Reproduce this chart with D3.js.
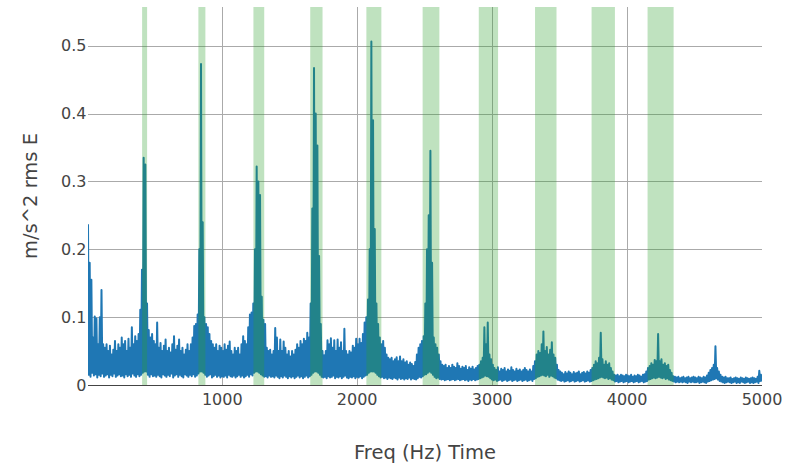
<!DOCTYPE html>
<html>
<head>
<meta charset="utf-8">
<script src="https://cdn.jsdelivr.net/npm/d3@7"></script>
<style>
  body { margin: 0; background: #fff; }
  text { font-family: "DejaVu Sans", Verdana, sans-serif; fill: #444; }
</style>
</head>
<body>
<div id="chart"></div>
<script>
// spectrum read in 12.5 Hz slots starting at 5 Hz (one row = 250 Hz):
// the top of each slot, and the floor the trace drops back to inside it
const freqStart = 5, freqStep = 12.5;
const peakAmp = [
  0.237, 0.180, 0.155, 0.070, 0.101, 0.098, 0.060, 0.100, 0.140, 0.060, 0.055, 0.060, 0.050, 0.058, 0.045, 0.052, 0.065, 0.050, 0.060, 0.055,
  0.070, 0.060, 0.065, 0.050, 0.068, 0.055, 0.085, 0.060, 0.072, 0.065, 0.075, 0.111, 0.170, 0.335, 0.325, 0.120, 0.081, 0.070, 0.075, 0.065,
  0.060, 0.092, 0.055, 0.062, 0.050, 0.058, 0.067, 0.050, 0.055, 0.048, 0.060, 0.072, 0.052, 0.058, 0.067, 0.050, 0.055, 0.045, 0.052, 0.060,
  0.050, 0.060, 0.070, 0.087, 0.090, 0.104, 0.200, 0.473, 0.240, 0.100, 0.090, 0.085, 0.075, 0.065, 0.060, 0.055, 0.060, 0.050, 0.058, 0.055,
  0.050, 0.060, 0.052, 0.058, 0.064, 0.050, 0.045, 0.055, 0.050, 0.055, 0.045, 0.060, 0.072, 0.065, 0.060, 0.085, 0.104, 0.107, 0.120, 0.200,
  0.322, 0.300, 0.280, 0.130, 0.096, 0.090, 0.055, 0.050, 0.052, 0.045, 0.050, 0.084, 0.070, 0.050, 0.067, 0.050, 0.064, 0.055, 0.045, 0.050,
  0.042, 0.050, 0.045, 0.052, 0.060, 0.055, 0.065, 0.060, 0.068, 0.065, 0.077, 0.070, 0.120, 0.260, 0.467, 0.400, 0.353, 0.190, 0.090, 0.050,
  0.044, 0.050, 0.066, 0.060, 0.069, 0.055, 0.066, 0.050, 0.067, 0.055, 0.063, 0.050, 0.083, 0.050, 0.045, 0.050, 0.048, 0.058, 0.055, 0.068,
  0.060, 0.068, 0.062, 0.075, 0.092, 0.100, 0.126, 0.200, 0.506, 0.390, 0.230, 0.120, 0.090, 0.070, 0.060, 0.065, 0.055, 0.045, 0.040, 0.038,
  0.040, 0.035, 0.038, 0.041, 0.035, 0.042, 0.035, 0.038, 0.033, 0.035, 0.030, 0.033, 0.031, 0.028, 0.034, 0.045, 0.055, 0.060, 0.065, 0.072,
  0.120, 0.200, 0.250, 0.345, 0.180, 0.070, 0.060, 0.055, 0.045, 0.035, 0.030, 0.028, 0.030, 0.025, 0.028, 0.025, 0.030, 0.027, 0.025, 0.032,
  0.028, 0.024, 0.027, 0.025, 0.028, 0.022, 0.026, 0.024, 0.027, 0.023, 0.025, 0.028, 0.030, 0.035, 0.040, 0.085, 0.060, 0.092, 0.045, 0.038,
  0.030, 0.025, 0.022, 0.026, 0.020, 0.024, 0.022, 0.025, 0.020, 0.023, 0.021, 0.026, 0.022, 0.020, 0.024, 0.021, 0.023, 0.020, 0.022, 0.025,
  0.022, 0.020, 0.023, 0.020, 0.028, 0.035, 0.045, 0.050, 0.047, 0.060, 0.079, 0.050, 0.056, 0.045, 0.052, 0.063, 0.045, 0.040, 0.030, 0.022,
  0.020, 0.018, 0.016, 0.019, 0.017, 0.020, 0.018, 0.016, 0.019, 0.017, 0.018, 0.020, 0.016, 0.018, 0.019, 0.017, 0.020, 0.018, 0.022, 0.025,
  0.030, 0.035, 0.032, 0.040, 0.077, 0.038, 0.030, 0.035, 0.030, 0.032, 0.025, 0.020, 0.015, 0.014, 0.015, 0.013, 0.015, 0.014, 0.013, 0.015,
  0.014, 0.013, 0.015, 0.012, 0.014, 0.013, 0.015, 0.014, 0.012, 0.015, 0.016, 0.020, 0.025, 0.028, 0.032, 0.030, 0.037, 0.035, 0.075, 0.035,
  0.038, 0.030, 0.032, 0.028, 0.030, 0.022, 0.018, 0.013, 0.012, 0.011, 0.012, 0.010, 0.011, 0.012, 0.010, 0.011, 0.012, 0.010, 0.011, 0.012,
  0.011, 0.010, 0.012, 0.011, 0.010, 0.012, 0.011, 0.014, 0.018, 0.022, 0.025, 0.030, 0.057, 0.025, 0.020, 0.015, 0.012, 0.011, 0.012, 0.010,
  0.010, 0.011, 0.009, 0.010, 0.011, 0.010, 0.009, 0.011, 0.010, 0.009, 0.011, 0.010, 0.009, 0.010, 0.011, 0.010, 0.009, 0.012, 0.021, 0.015
];
const floorAmp = [
  0.015, 0.012, 0.018, 0.014, 0.016, 0.011, 0.015, 0.013, 0.017, 0.012, 0.014, 0.016, 0.011, 0.015, 0.013, 0.017, 0.012, 0.014, 0.016, 0.013,
  0.014, 0.011, 0.016, 0.013, 0.015, 0.012, 0.017, 0.014, 0.012, 0.016, 0.013, 0.015, 0.018, 0.020, 0.020, 0.015, 0.012, 0.016, 0.013, 0.014,
  0.012, 0.015, 0.013, 0.011, 0.016, 0.014, 0.012, 0.015, 0.013, 0.017, 0.011, 0.014, 0.016, 0.012, 0.015, 0.013, 0.011, 0.016, 0.014, 0.012,
  0.015, 0.013, 0.016, 0.012, 0.014, 0.017, 0.020, 0.020, 0.018, 0.015, 0.012, 0.014, 0.016, 0.011, 0.013, 0.015, 0.012, 0.014, 0.011, 0.013,
  0.012, 0.014, 0.011, 0.015, 0.013, 0.012, 0.014, 0.011, 0.013, 0.015, 0.012, 0.014, 0.011, 0.013, 0.015, 0.012, 0.016, 0.014, 0.018, 0.020,
  0.020, 0.018, 0.016, 0.014, 0.012, 0.013, 0.011, 0.014, 0.012, 0.013, 0.011, 0.014, 0.012, 0.010, 0.013, 0.011, 0.014, 0.012, 0.010, 0.013,
  0.011, 0.013, 0.010, 0.012, 0.014, 0.011, 0.013, 0.010, 0.012, 0.014, 0.011, 0.013, 0.015, 0.018, 0.020, 0.020, 0.018, 0.015, 0.012, 0.011,
  0.012, 0.010, 0.013, 0.011, 0.012, 0.014, 0.010, 0.012, 0.011, 0.013, 0.010, 0.012, 0.014, 0.011, 0.010, 0.012, 0.011, 0.013, 0.010, 0.012,
  0.011, 0.013, 0.010, 0.012, 0.014, 0.015, 0.018, 0.020, 0.020, 0.020, 0.018, 0.015, 0.013, 0.011, 0.012, 0.010, 0.011, 0.009, 0.011, 0.010,
  0.009, 0.011, 0.010, 0.008, 0.011, 0.009, 0.010, 0.008, 0.010, 0.009, 0.011, 0.008, 0.010, 0.009, 0.008, 0.010, 0.012, 0.011, 0.013, 0.015,
  0.016, 0.018, 0.020, 0.018, 0.015, 0.012, 0.010, 0.011, 0.009, 0.008, 0.009, 0.007, 0.008, 0.009, 0.007, 0.008, 0.009, 0.007, 0.008, 0.009,
  0.007, 0.008, 0.009, 0.007, 0.008, 0.006, 0.008, 0.007, 0.009, 0.007, 0.008, 0.009, 0.010, 0.011, 0.012, 0.014, 0.013, 0.012, 0.010, 0.008,
  0.007, 0.008, 0.006, 0.007, 0.008, 0.006, 0.007, 0.008, 0.006, 0.007, 0.008, 0.006, 0.007, 0.008, 0.006, 0.007, 0.008, 0.006, 0.007, 0.008,
  0.006, 0.007, 0.008, 0.006, 0.009, 0.010, 0.012, 0.013, 0.014, 0.015, 0.014, 0.013, 0.015, 0.012, 0.014, 0.013, 0.011, 0.010, 0.008, 0.007,
  0.006, 0.007, 0.005, 0.006, 0.007, 0.005, 0.006, 0.007, 0.005, 0.006, 0.007, 0.005, 0.006, 0.007, 0.005, 0.006, 0.007, 0.005, 0.006, 0.007,
  0.008, 0.009, 0.010, 0.011, 0.012, 0.011, 0.010, 0.011, 0.009, 0.010, 0.008, 0.007, 0.005, 0.006, 0.004, 0.005, 0.006, 0.004, 0.005, 0.006,
  0.004, 0.005, 0.006, 0.004, 0.005, 0.006, 0.004, 0.005, 0.006, 0.004, 0.005, 0.006, 0.008, 0.009, 0.010, 0.011, 0.010, 0.011, 0.012, 0.011,
  0.010, 0.011, 0.009, 0.010, 0.008, 0.007, 0.006, 0.005, 0.004, 0.005, 0.004, 0.005, 0.004, 0.005, 0.004, 0.003, 0.005, 0.004, 0.005, 0.004,
  0.004, 0.005, 0.003, 0.004, 0.005, 0.004, 0.003, 0.005, 0.006, 0.007, 0.008, 0.009, 0.010, 0.008, 0.006, 0.005, 0.004, 0.003, 0.004, 0.005,
  0.004, 0.003, 0.004, 0.005, 0.003, 0.004, 0.003, 0.005, 0.004, 0.003, 0.004, 0.005, 0.003, 0.004, 0.003, 0.004, 0.005, 0.003, 0.006, 0.005
];

// shaded harmonic bands (Hz)
const bandStart = [406, 823, 1231, 1652, 2068, 2485, 2901, 3318, 3737, 4152];
const bandEnd   = [443, 875, 1311, 1743, 2179, 2609, 3044, 3477, 3910, 4345];

const xTicks = [1000, 2000, 3000, 4000, 5000];
const yTicks = [0, 0.1, 0.2, 0.3, 0.4, 0.5];
const xRange = [5, 5000];
const yRange = [0, 0.557];

const xTitle = "Freq (Hz) Time";
const yTitle = "m/s^2 rms E";

const width = 789, height = 463;
const margin = {left: 88, right: 27, top: 7, bottom: 78};
const plotW = width - margin.left - margin.right,
    plotH = height - margin.top - margin.bottom;

// each slot: its top first, then its floor half a step later
const data = [];
peakAmp.forEach((p, i) => {
    const f = freqStart + i * freqStep;
    data.push({f: f, a: p});
    data.push({f: f + freqStep / 2, a: floorAmp[i]});
});

const x = d3.scaleLinear().domain(xRange).range([0, plotW]);
const y = d3.scaleLinear().domain(yRange).range([plotH, 0]);

const svg = d3.select("#chart")
    .append("svg")
    .attr("width", width)
    .attr("height", height);

svg.append("defs").append("clipPath")
    .attr("id", "plot-clip")
    .append("rect")
    .attr("width", plotW)
    .attr("height", plotH);

const g = svg.append("g")
    .attr("transform", `translate(${margin.left},${margin.top})`);

// grid
g.append("g")
    .selectAll("line")
    .data(yTicks.filter(d => d > 0))
    .enter().append("line")
    .attr("x1", 0)
    .attr("x2", plotW)
    .attr("y1", d => Math.round(y(d)) + 0.5)
    .attr("y2", d => Math.round(y(d)) + 0.5)
    .style("stroke", "#aaa")
    .style("stroke-width", 1);

g.append("g")
    .selectAll("line")
    .data(xTicks.filter(d => d < xRange[1]))
    .enter().append("line")
    .attr("x1", d => Math.round(x(d)) + 0.5)
    .attr("x2", d => Math.round(x(d)) + 0.5)
    .attr("y1", 0)
    .attr("y2", plotH)
    .style("stroke", "#aaa")
    .style("stroke-width", 1);

// zero line
g.append("line")
    .attr("x1", 0)
    .attr("x2", plotW)
    .attr("y1", Math.round(y(0)) + 0.5)
    .attr("y2", Math.round(y(0)) + 0.5)
    .style("stroke", "#444")
    .style("stroke-width", 1);

// trace
const line = d3.line()
    .x(d => x(d.f))
    .y(d => y(d.a));

g.append("path")
    .datum(data)
    .attr("clip-path", "url(#plot-clip)")
    .attr("d", line)
    .style("fill", "none")
    .style("stroke", "#1f77b4")
    .style("stroke-width", 2)
    .style("stroke-linejoin", "round");

// bands go over the trace
g.append("g")
    .selectAll("rect")
    .data(bandStart.map((s, i) => [s, bandEnd[i]]))
    .enter().append("rect")
    .attr("x", d => x(d[0]))
    .attr("y", 0)
    .attr("width", d => x(d[1]) - x(d[0]))
    .attr("height", plotH)
    .style("fill", "rgb(44,160,44)")
    .style("opacity", 0.3);

// tick labels
g.append("g")
    .selectAll("text")
    .data(yTicks)
    .enter().append("text")
    .attr("x", -1.5)
    .attr("y", d => y(d))
    .attr("dy", "0.36em")
    .attr("text-anchor", "end")
    .style("font-size", "16px")
    .text(d => d === 0 ? "0" : d3.format(".1f")(d));

g.append("g")
    .selectAll("text")
    .data(xTicks)
    .enter().append("text")
    .attr("x", d => x(d))
    .attr("y", plotH + 20)
    .attr("text-anchor", "middle")
    .style("font-size", "16px")
    .text(d => d);

// axis titles
svg.append("text")
    .attr("x", margin.left + plotW / 2)
    .attr("y", 459)
    .attr("text-anchor", "middle")
    .style("font-size", "19.5px")
    .text(xTitle);

svg.append("text")
    .attr("transform", `translate(37,${margin.top + plotH / 2}) rotate(-90)`)
    .attr("text-anchor", "middle")
    .style("font-size", "19.5px")
    .text(yTitle);
</script>
</body>
</html>
